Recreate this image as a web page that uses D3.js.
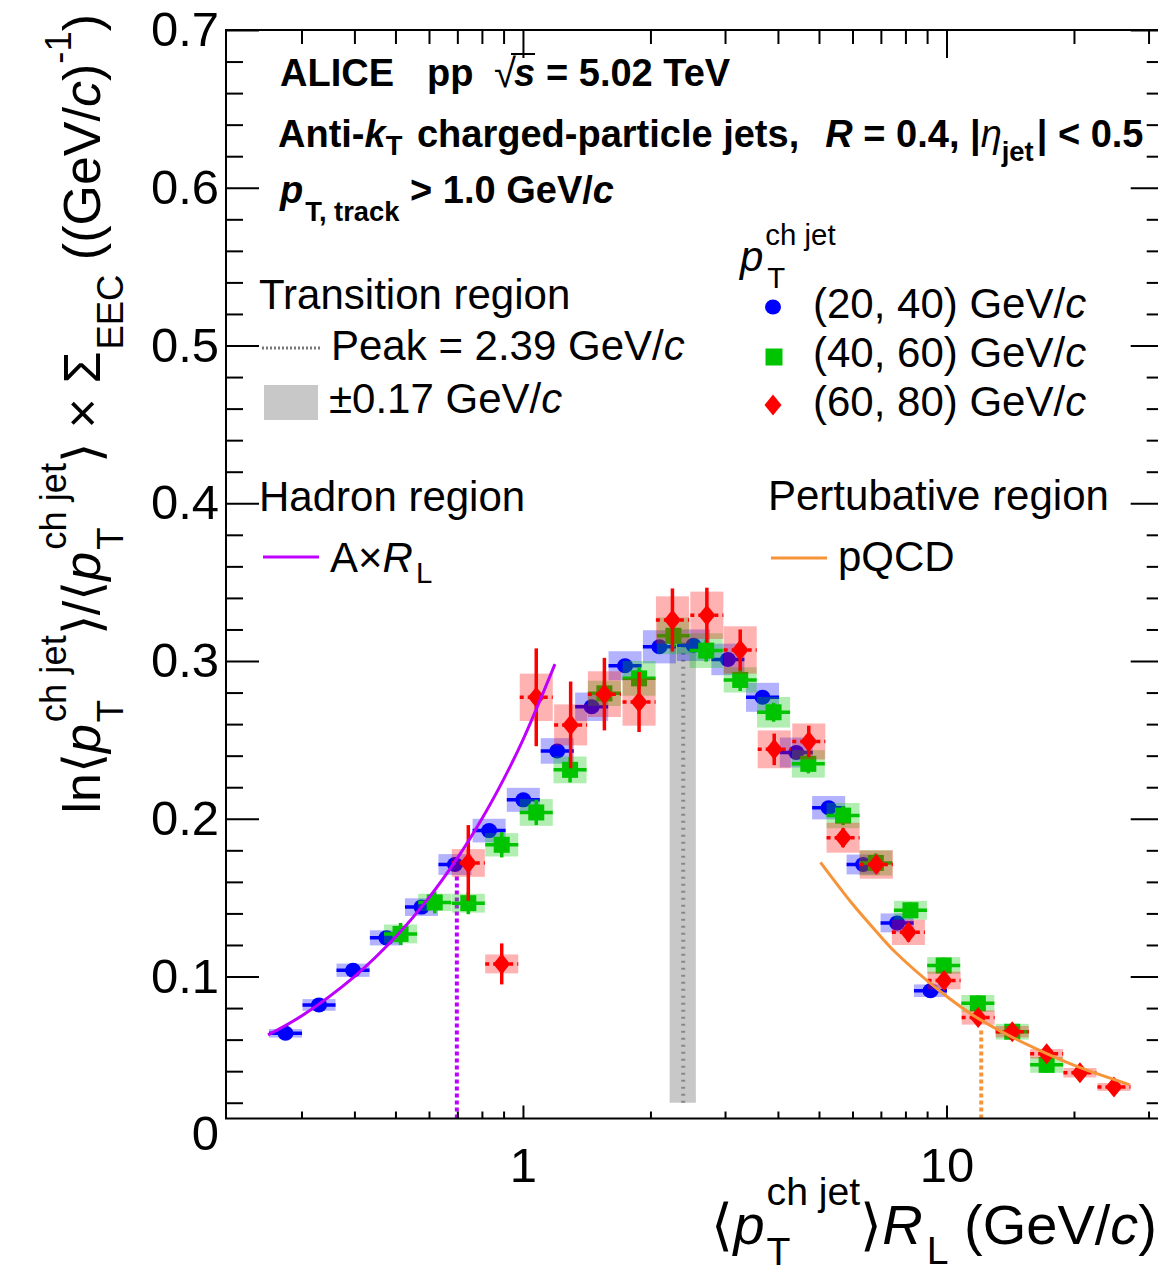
<!DOCTYPE html>
<html><head><meta charset="utf-8">
<script src="https://cdn.jsdelivr.net/npm/d3@7"></script>
<style>body{margin:0;background:#fff} text{white-space:pre}</style>
</head><body><svg id="c" width="1158" height="1274" xmlns="http://www.w3.org/2000/svg"></svg>
<script>
const FONT = "'Liberation Sans', Arial, Helvetica, sans-serif";

// ---------------- data ----------------
const blueX = [0.275, 0.330, 0.397, 0.476, 0.576, 0.691, 0.832, 1.002, 1.205, 1.453, 1.742, 2.100, 2.527, 3.047, 3.679, 4.419, 5.27, 6.356, 7.646, 9.167];
const blueY = [0.064, 0.082, 0.104, 0.1245, 0.144, 0.171, 0.1925, 0.212, 0.243, 0.271, 0.297, 0.309, 0.310, 0.301, 0.277, 0.242, 0.207, 0.171, 0.134, 0.091];
const blueStat = [0.003, 0.003, 0.003, 0.003, 0.003, 0.003, 0.003, 0.003, 0.003, 0.003, 0.003, 0.003, 0.003, 0.003, 0.003, 0.003, 0.003, 0.003, 0.003, 0.003];
const blueSys = [0.0027, 0.0037, 0.0042, 0.0048, 0.0056, 0.0066, 0.0075, 0.0076, 0.0081, 0.009, 0.0092, 0.0105, 0.010, 0.010, 0.0092, 0.0095, 0.0074, 0.0063, 0.006, 0.004];

const greenX = [0.514, 0.619, 0.743, 0.891, 1.075, 1.292, 1.557, 1.880, 2.266, 2.708, 3.258, 3.906, 4.718, 5.699, 6.81, 8.22, 9.85, 11.86, 14.30, 17.24];
const greenY = [0.127, 0.147, 0.1465, 0.1835, 0.204, 0.231, 0.2795, 0.289, 0.316, 0.3066, 0.288, 0.2675, 0.2348, 0.202, 0.172, 0.142, 0.107, 0.083, 0.065, 0.044];
const greenStat = [0.007, 0.007, 0.007, 0.008, 0.008, 0.008, 0.007, 0.007, 0.007, 0.007, 0.007, 0.006, 0.006, 0.006, 0.006, 0.005, 0.005, 0.005, 0.005, 0.005];
const greenSys = [0.006, 0.0055, 0.006, 0.0074, 0.0085, 0.0085, 0.008, 0.011, 0.0116, 0.011, 0.008, 0.0097, 0.0087, 0.008, 0.008, 0.006, 0.0053, 0.0053, 0.005, 0.005];

const redX = [0.743, 0.891, 1.075, 1.296, 1.557, 1.880, 2.254, 2.718, 3.258, 3.92, 4.73, 5.70, 6.83, 8.13, 9.87, 11.88, 14.30, 17.24, 20.66, 24.86];
const redY = [0.172, 0.108, 0.277, 0.2595, 0.279, 0.274, 0.326, 0.329, 0.307, 0.244, 0.249, 0.188, 0.171, 0.128, 0.0975, 0.074, 0.065, 0.051, 0.039, 0.030];
const redStat = [0.024, 0.013, 0.031, 0.0275, 0.023, 0.019, 0.020, 0.0175, 0.013, 0.010, 0.010, 0.006, 0.005, 0.006, 0.005, 0.004, 0.004, 0.004, 0.004, 0.003];
const redSys = [0.0088, 0.006, 0.015, 0.013, 0.0145, 0.015, 0.015, 0.015, 0.015, 0.012, 0.0114, 0.0095, 0.009, 0.008, 0.0056, 0.0045, 0.0036, 0.003, 0.003, 0.0025];

const binHalfDecades = 0.039;

const hadronFitX = [0.25, 0.3, 0.4, 0.5, 0.6, 0.7, 0.8, 0.9, 1.0, 1.19];
const hadronFitY = [0.063, 0.075, 0.100, 0.125, 0.150, 0.175, 0.200, 0.225, 0.250, 0.298];
const pqcdX = [5.04, 6.0, 6.73, 7.5, 9.68, 11.6, 14.3, 17.3, 20.7, 27.0];
const pqcdY = [0.1724, 0.146, 0.1305, 0.1165, 0.0905, 0.0752, 0.0615, 0.051, 0.0422, 0.0315];

const hadronEdge = 0.698, hadronEdgeTop = 0.165;
const pqcdEdge = 12.08, pqcdEdgeTop = 0.066;
const peak = 2.39, peakErr = 0.17, peakBand = [0.02, 0.312];

const yMajorTicks = [0.1, 0.2, 0.3, 0.4, 0.5, 0.6, 0.7];
const yMinorTicks = [0.02,0.04,0.06,0.08,0.12,0.14,0.16,0.18,0.22,0.24,0.26,0.28,0.32,0.34,0.36,0.38,0.42,0.44,0.46,0.48,0.52,0.54,0.56,0.58,0.62,0.64,0.66,0.68];
const xMajorTicks = [1, 10];
const xMinorTicks = [0.3,0.4,0.5,0.6,0.7,0.8,0.9,2,3,4,5,6,7,8,9,20,30];

// ---------------- setup ----------------
const svg = d3.select('#c');
svg.append('rect').attr('width', 1158).attr('height', 1274).attr('fill', '#fff');
const x = d3.scaleLog().domain([0.199, 32.4]).range([226, 1162.7]);
const y = d3.scaleLinear().domain([0.01, 0.7]).range([1118.5, 30]);

// rich text helper
function rich(parent, parts, o) {
  const outer = parent.append('g').attr('transform', o.transform || `translate(${o.x},${o.y})`);
  const g = outer.append('g');
  let cx = 0, stackStart = 0, stackW = 0;
  const base = o.size;
  for (const p of parts) {
    const fs = p.s ? base * (p.scale || 0.7) : base * (p.scale || 1);
    let dy = 0;
    if (p.s === 'sup') dy = -base * (p.sh != null ? p.sh : 0.62);
    if (p.s === 'sub') dy = base * (p.sh != null ? p.sh : 0.42);
    const t = g.append('text').text(p.t)
      .attr('font-family', p.f || FONT)
      .attr('font-size', fs)
      .attr('font-style', p.i ? 'italic' : 'normal')
      .attr('font-weight', p.w || o.weight || 'normal')
      .attr('fill', o.fill || '#000')
      .attr('y', dy);
    const w = t.node().getComputedTextLength();
    const dx = p.dx || 0;
    if (p.stack === 'start') { t.attr('x', cx + dx); stackStart = cx; stackW = w + dx; }
    else if (p.stack === 'end') { t.attr('x', stackStart + dx); cx = stackStart + Math.max(stackW, w + dx); }
    else { t.attr('x', cx + dx); cx += w + dx; }
  }
  if (o.anchor === 'end') g.attr('transform', `translate(${-cx},0)`);
  return outer;
}

// ---------------- bands / guide lines (under data) ----------------
svg.append('rect')
  .attr('x', x(peak - peakErr)).attr('width', x(peak + peakErr) - x(peak - peakErr))
  .attr('y', y(peakBand[1])).attr('height', y(peakBand[0]) - y(peakBand[1]))
  .attr('fill', '#c8c8c8');
svg.append('line')
  .attr('x1', x(peak)).attr('x2', x(peak)).attr('y1', y(peakBand[0])).attr('y2', y(peakBand[1]))
  .attr('stroke', '#888').attr('stroke-width', 4).attr('stroke-dasharray', '2,5');
svg.append('line')
  .attr('x1', x(hadronEdge)).attr('x2', x(hadronEdge)).attr('y1', y(0.01)).attr('y2', y(hadronEdgeTop))
  .attr('stroke', '#c000ff').attr('stroke-width', 4).attr('stroke-dasharray', '4,3');
svg.append('line')
  .attr('x1', x(pqcdEdge)).attr('x2', x(pqcdEdge)).attr('y1', y(0.01)).attr('y2', y(pqcdEdgeTop))
  .attr('stroke', '#f7943a').attr('stroke-width', 4).attr('stroke-dasharray', '4,3');

// ---------------- data series ----------------
function drawSeries(X, Y, stat, sys, color, boxFill, marker, hDash) {
  const g = svg.append('g');
  const idx = d3.range(X.length);
  const lo = i => x(X[i] * Math.pow(10, -binHalfDecades));
  const hi = i => x(X[i] * Math.pow(10, binHalfDecades));
  g.selectAll('rect.sys').data(idx).join('rect').attr('class', 'sys')
    .attr('x', lo).attr('width', i => hi(i) - lo(i))
    .attr('y', i => y(Y[i] + sys[i])).attr('height', i => y(Y[i] - sys[i]) - y(Y[i] + sys[i]))
    .attr('fill', boxFill);
  g.selectAll('line.h').data(idx).join('line').attr('class', 'h')
    .attr('x1', lo).attr('x2', hi).attr('y1', i => y(Y[i])).attr('y2', i => y(Y[i]))
    .attr('stroke', color).attr('stroke-width', 3.5)
    .attr('stroke-dasharray', hDash ? '4,4' : null);
  g.selectAll('line.v').data(idx).join('line').attr('class', 'v')
    .attr('x1', i => x(X[i])).attr('x2', i => x(X[i]))
    .attr('y1', i => y(Y[i] - stat[i])).attr('y2', i => y(Y[i] + stat[i]))
    .attr('stroke', color).attr('stroke-width', 3.5);
  g.selectAll('path.m').data(idx).join('path').attr('class', 'm')
    .attr('transform', i => `translate(${x(X[i])},${y(Y[i])})`)
    .attr('fill', color).attr('d', marker);
}
const circlePath = 'M-8,0A8,7.5 0 1,0 8,0A8,7.5 0 1,0 -8,0Z';
const squarePath = 'M-8,-8H8V8H-8Z';
const diamondPath = 'M0,-10.5L8.5,0L0,10.5L-8.5,0Z';

drawSeries(blueX, blueY, blueStat, blueSys, '#0000ff', 'rgba(0,0,255,0.3)', circlePath, false);
drawSeries(greenX, greenY, greenStat, greenSys, '#00c400', 'rgba(0,200,0,0.3)', squarePath, false);
drawSeries(redX, redY, redStat, redSys, '#ff0000', 'rgba(255,0,0,0.3)', diamondPath, true);

// ---------------- fit curves ----------------
const lineGen = d3.line().x(d => x(d[0])).y(d => y(d[1])).curve(d3.curveCatmullRom.alpha(0.5));
svg.append('path').attr('d', lineGen(hadronFitX.map((v, i) => [v, hadronFitY[i]])))
  .attr('fill', 'none').attr('stroke', '#c000ff').attr('stroke-width', 3);
svg.append('path').attr('d', lineGen(pqcdX.map((v, i) => [v, pqcdY[i]])))
  .attr('fill', 'none').attr('stroke', '#f7943a').attr('stroke-width', 3);

// ---------------- axes ----------------
function styleAxis(g) {
  g.select('.domain').remove();
  g.selectAll('line').attr('stroke', '#000').attr('stroke-width', 2);
  g.selectAll('text').attr('font-family', FONT).attr('font-size', 49).attr('fill', '#000');
  return g;
}
styleAxis(svg.append('g').attr('transform', 'translate(226,0)')
  .call(d3.axisLeft(y).tickValues(yMajorTicks).tickSizeInner(-33).tickSizeOuter(0).tickPadding(7).tickFormat(d3.format('.1f'))));
styleAxis(svg.append('g').attr('transform', 'translate(226,0)')
  .call(d3.axisLeft(y).tickValues(yMinorTicks).tickSizeInner(-17).tickSizeOuter(0).tickFormat('')));
styleAxis(svg.append('g').attr('transform', `translate(${x.range()[1]},0)`)
  .call(d3.axisRight(y).tickValues(yMajorTicks).tickSizeInner(-32).tickSizeOuter(0).tickFormat('')));
styleAxis(svg.append('g').attr('transform', `translate(${x.range()[1]},0)`)
  .call(d3.axisRight(y).tickValues(yMinorTicks).tickSizeInner(-16).tickSizeOuter(0).tickFormat('')));
styleAxis(svg.append('g').attr('transform', 'translate(0,1118.5)')
  .call(d3.axisBottom(x).tickValues(xMajorTicks).tickSizeInner(-13).tickSizeOuter(0).tickPadding(29).tickFormat(d => String(d))));
styleAxis(svg.append('g').attr('transform', 'translate(0,1118.5)')
  .call(d3.axisBottom(x).tickValues(xMinorTicks).tickSizeInner(-7).tickSizeOuter(0).tickFormat('')));
styleAxis(svg.append('g').attr('transform', 'translate(0,30)')
  .call(d3.axisTop(x).tickValues(xMajorTicks).tickSizeInner(-28).tickSizeOuter(0).tickFormat('')));
styleAxis(svg.append('g').attr('transform', 'translate(0,30)')
  .call(d3.axisTop(x).tickValues(xMinorTicks).tickSizeInner(-14).tickSizeOuter(0).tickFormat('')));
// "0" label
svg.append('text').text('0').attr('x', 219).attr('y', y(0)).attr('dy', '0.32em')
  .attr('text-anchor', 'end').attr('font-family', FONT).attr('font-size', 49);
// frame
const [xl, xr] = x.range();
svg.append('path').attr('d', `M${xr},30H${xl}V1118.5H${xr}`)
  .attr('fill', 'none').attr('stroke', '#000').attr('stroke-width', 2);

// ---------------- axis titles ----------------
rich(svg, [
  {t: '⟨'}, {t: 'p', i: 1}, {t: 'ch jet', s: 'sup', stack: 'start', sh: 0.7, dx: 2}, {t: 'T', s: 'sub', stack: 'end', sh: 0.38, dx: 2},
  {t: '⟩'}, {t: 'R', i: 1}, {t: 'L', s: 'sub', sh: 0.36, dx: 4}, {t: ' (GeV/'}, {t: 'c', i: 1}, {t: ')'}
], {x: 1157, y: 1244, size: 56, anchor: 'end'});

rich(svg, [
  {t: 'ln⟨'}, {t: 'p', i: 1}, {t: 'ch jet', s: 'sup', stack: 'start', sh: 0.66, dx: 2}, {t: 'T', s: 'sub', stack: 'end', sh: 0.45, dx: 2},
  {t: '⟩/⟨'}, {t: 'p', i: 1}, {t: 'ch jet', s: 'sup', stack: 'start', sh: 0.66, dx: 2}, {t: 'T', s: 'sub', stack: 'end', sh: 0.45, dx: 2},
  {t: '⟩ × Σ'}, {t: 'EEC', s: 'sub', sh: 0.45, dx: 2}, {t: ' ((GeV/'}, {t: 'c', i: 1}, {t: ')'}, {t: '-1', s: 'sup', sh: 0.55}, {t: ')'}
], {transform: 'translate(100,14) rotate(-90)', size: 52, anchor: 'end'});

// ---------------- header text ----------------
rich(svg, [{t: 'ALICE'}], {x: 280, y: 86, size: 38, weight: 'bold'});
rich(svg, [{t: 'pp'}], {x: 427, y: 86, size: 38, weight: 'bold'});
rich(svg, [{t: '√', w: 'normal'}], {x: 494, y: 87, size: 40});
rich(svg, [{t: 's', i: 1}], {x: 514, y: 86, size: 38, weight: 'bold'});
svg.append('line').attr('x1', 511).attr('x2', 535).attr('y1', 54).attr('y2', 54).attr('stroke', '#000').attr('stroke-width', 2);
rich(svg, [{t: '= 5.02 TeV'}], {x: 546, y: 86, size: 38, weight: 'bold'});

rich(svg, [
  {t: 'Anti-'}, {t: 'k', i: 1}, {t: 'T', s: 'sub', sh: 0.22, scale: 0.72},
  {t: ' charged-particle jets,  ', dx: 4}, {t: 'R', i: 1, dx: 5}, {t: ' = 0.4, |'}, {t: 'η', i: 1, w: 'normal'},
  {t: 'jet', s: 'sub', sh: 0.38, scale: 0.72}, {t: '| < 0.5', dx: 3}
], {x: 278, y: 147, size: 38, weight: 'bold'});

rich(svg, [
  {t: 'p', i: 1}, {t: 'T, track', s: 'sub', sh: 0.47, scale: 0.72, dx: 2}, {t: ' > 1.0 GeV/'}, {t: 'c', i: 1}
], {x: 280, y: 203, size: 38, weight: 'bold'});

// ---------------- legends ----------------
const LS = 42;
rich(svg, [{t: 'Transition region'}], {x: 259, y: 309, size: LS});
svg.append('line').attr('x1', 262).attr('x2', 320).attr('y1', 348).attr('y2', 348)
  .attr('stroke', '#777').attr('stroke-width', 3).attr('stroke-dasharray', '2,2');
rich(svg, [{t: 'Peak = 2.39 GeV/'}, {t: 'c', i: 1}], {x: 331, y: 360, size: LS});
svg.append('rect').attr('x', 264).attr('y', 385).attr('width', 54).attr('height', 35).attr('fill', '#c8c8c8');
rich(svg, [{t: '±0.17 GeV/'}, {t: 'c', i: 1}], {x: 329, y: 413, size: LS});

rich(svg, [{t: 'Hadron region'}], {x: 259, y: 511, size: LS});
svg.append('line').attr('x1', 263).attr('x2', 319).attr('y1', 557).attr('y2', 557)
  .attr('stroke', '#c000ff').attr('stroke-width', 3);
rich(svg, [{t: 'A×'}, {t: 'R', i: 1}, {t: 'L', s: 'sub', sh: 0.27, dx: 3}], {x: 330, y: 572, size: LS});

rich(svg, [{t: 'p', i: 1}, {t: 'ch jet', s: 'sup', stack: 'start', sh: 0.62, dx: 2}, {t: 'T', s: 'sub', stack: 'end', sh: 0.4, dx: 4}],
  {x: 740, y: 271, size: LS});
svg.append('path').attr('transform', 'translate(773,307)').attr('d', circlePath).attr('fill', '#0000ff');
svg.append('path').attr('transform', 'translate(774,357)').attr('d', 'M-8.5,-8.5H8.5V8.5H-8.5Z').attr('fill', '#00c400');
svg.append('path').attr('transform', 'translate(773,405)').attr('d', diamondPath).attr('fill', '#ff0000');
rich(svg, [{t: '(20, 40) GeV/'}, {t: 'c', i: 1}], {x: 813, y: 318, size: LS});
rich(svg, [{t: '(40, 60) GeV/'}, {t: 'c', i: 1}], {x: 813, y: 367, size: LS});
rich(svg, [{t: '(60, 80) GeV/'}, {t: 'c', i: 1}], {x: 813, y: 416, size: LS});

rich(svg, [{t: 'Pertubative region'}], {x: 768, y: 510, size: LS});
svg.append('line').attr('x1', 771).attr('x2', 827).attr('y1', 558).attr('y2', 558)
  .attr('stroke', '#f7943a').attr('stroke-width', 3);
rich(svg, [{t: 'pQCD'}], {x: 838, y: 571, size: LS});
</script>
</body></html>
